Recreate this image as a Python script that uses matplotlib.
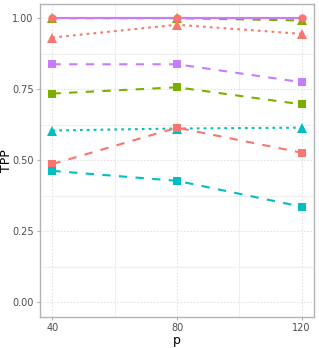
import matplotlib
matplotlib.use("Agg")
import matplotlib.pyplot as plt

p = [40, 80, 120]

# series
purple_solid = [1.0, 1.0, 1.0]
salmon_circle = [1.0, 1.0, 1.0]
green_tri = [1.0, 1.0, 0.992]
salmon_tri = [0.932, 0.977, 0.945]
purple_sq = [0.838, 0.838, 0.775]
green_sq = [0.735, 0.757, 0.697]
cyan_tri = [0.605, 0.612, 0.615]
salmon_sq = [0.487, 0.615, 0.527]
cyan_sq = [0.463, 0.428, 0.337]

SALMON = "#F8766D"
GREEN = "#7CAE00"
CYAN = "#00BFC4"
PURPLE = "#C77CFF"

lw = 1.5
dashed = (0, (4, 4))
dotted = (0, (1.3, 2))

fig = plt.figure(figsize=(3.19, 3.48), dpi=100)
ax = fig.add_axes([40 / 319, 31.3 / 348, 274 / 319, 312.7 / 348])

# lines first (like ggplot), then points
lines = [
    (salmon_circle, SALMON, "-"),
    (green_tri, GREEN, dashed),
    (purple_solid, PURPLE, "-"),
    (salmon_tri, SALMON, dotted),
    (purple_sq, PURPLE, dashed),
    (green_sq, GREEN, dashed),
    (cyan_tri, CYAN, dotted),
    (salmon_sq, SALMON, dashed),
    (cyan_sq, CYAN, dashed),
]
for y, c, ls in lines:
    ax.plot(p, y, color=c, linestyle=ls, linewidth=lw, zorder=3)

points = [
    (green_tri, GREEN, "^", 7),
    (salmon_circle, SALMON, "o", 6),
    (salmon_tri, SALMON, "^", 7),
    (purple_sq, PURPLE, "s", 5.5),
    (green_sq, GREEN, "s", 5.5),
    (cyan_tri, CYAN, "^", 7),
    (salmon_sq, SALMON, "s", 5.5),
    (cyan_sq, CYAN, "s", 5.5),
]
for y, c, m, ms in points:
    ax.plot(p, y, linestyle="none", marker=m, markersize=ms, color=c,
            markeredgewidth=0, zorder=4)

ax.set_xlim(36, 124)
ax.set_ylim(-0.05, 1.05)
ax.set_xticks(p)
ax.set_yticks([0, 0.25, 0.5, 0.75, 1.0])
ax.set_yticklabels(["0.00", "0.25", "0.50", "0.75", "1.00"])
ax.set_xticks([60, 100], minor=True)
ax.set_yticks([0.125, 0.375, 0.625, 0.875], minor=True)

ax.grid(which="major", color="#E3E3E3", linestyle=(0, (1.5, 1.5)), linewidth=0.8, zorder=0)
ax.grid(which="minor", color="#EFEFEF", linestyle="-", linewidth=0.8, zorder=0)
ax.set_axisbelow(True)

for s in ax.spines.values():
    s.set_color("#B3B3B3")
    s.set_linewidth(1.0)

ax.tick_params(which="major", length=2.5, width=0.8, color="#B3B3B3",
               labelsize=7, labelcolor="#4D4D4D", pad=2)
ax.tick_params(which="minor", length=0)

ax.set_xlabel("p", fontsize=9, labelpad=1)
ax.set_ylabel("TPP", fontsize=9)
ax.yaxis.set_label_coords(-0.097, 0.5)

fig.savefig("out.png", dpi=100)
